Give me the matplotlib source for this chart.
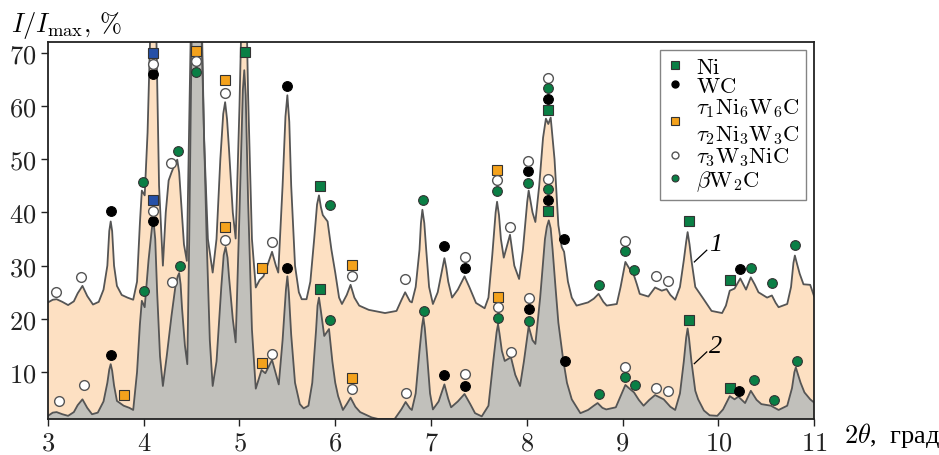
import matplotlib
matplotlib.use('Agg')
import matplotlib.pyplot as plt
from matplotlib.lines import Line2D

plt.rcParams['font.family'] = ['cmr10', 'Liberation Serif']
plt.rcParams['mathtext.fontset'] = 'cm'
plt.rcParams['axes.formatter.use_mathtext'] = True

# кривая 1 (верхняя)
x1 = [3.00, 3.05, 3.09, 3.15, 3.21, 3.27, 3.31, 3.36, 3.41, 3.47, 3.53, 3.58, 3.62, 3.64, 3.655,
      3.67, 3.69, 3.72, 3.77, 3.83, 3.89, 3.93, 3.96, 3.98, 4.01, 4.04, 4.07, 4.10, 4.13, 4.16,
      4.20, 4.23, 4.26, 4.29, 4.33, 4.35, 4.37, 4.39, 4.42, 4.45, 4.49, 4.55, 4.61, 4.63, 4.67,
      4.72, 4.76, 4.80, 4.83, 4.85, 4.87, 4.89, 4.93, 4.96, 5.00, 5.05, 5.09, 5.13, 5.17, 5.21,
      5.25, 5.29, 5.34, 5.38, 5.405, 5.45, 5.48, 5.50, 5.52, 5.54, 5.58, 5.62, 5.65, 5.70, 5.74,
      5.78, 5.81, 5.83, 5.85, 5.87, 5.92, 5.96, 6.00, 6.04, 6.07, 6.12, 6.16, 6.20, 6.25, 6.35,
      6.52, 6.64, 6.69, 6.73, 6.78, 6.80, 6.84, 6.88, 6.895, 6.91, 6.93, 6.95, 6.98, 7.02, 7.07,
      7.125, 7.14, 7.16, 7.18, 7.22, 7.28, 7.35, 7.40, 7.47, 7.56, 7.60, 7.64, 7.675, 7.69, 7.71,
      7.73, 7.76, 7.825, 7.87, 7.92, 7.96, 8.005, 8.02, 8.04, 8.06, 8.09, 8.13, 8.17, 8.20, 8.225,
      8.25, 8.29, 8.33, 8.365, 8.39, 8.43, 8.47, 8.52, 8.64, 8.70, 8.75, 8.80, 8.835, 8.94, 8.98,
      9.03, 9.07, 9.11, 9.15, 9.18, 9.27, 9.34, 9.41, 9.46, 9.50, 9.55, 9.60, 9.64, 9.665, 9.68,
      9.70, 9.72, 9.76, 9.84, 9.93, 10.04, 10.08, 10.12, 10.17, 10.23, 10.29, 10.34, 10.38, 10.42,
      10.51, 10.56, 10.60, 10.63, 10.72, 10.76, 10.785, 10.80, 10.82, 10.85, 10.89, 10.96, 11.00]
y1 = [23.1, 23.6, 23.7, 23.2, 22.6, 23.3, 24.8, 26.2, 24.3, 22.7, 23.2, 25.5, 30.0, 36.5, 38.3,
      36.5, 30.0, 26.2, 24.5, 24.0, 23.6, 27.0, 38.0, 44.1, 43.2, 55.0, 75.0, 100.0, 75.0, 45.0,
      30.0, 40.0, 46.0, 47.5, 49.3, 49.9, 47.5, 42.0, 34.0, 30.9, 72.6, 110.0, 72.6, 53.8, 35.0,
      28.7, 35.0, 50.0, 58.5, 60.7, 57.5, 52.0, 40.0, 35.1, 60.0, 100.0, 62.0, 35.0, 25.9, 27.3,
      28.0, 30.0, 32.6, 30.0, 28.7, 45.0, 58.0, 62.0, 57.0, 45.0, 30.0, 25.0, 23.7, 23.7, 27.0,
      35.0, 41.5, 43.2, 41.0, 39.5, 38.3, 33.0, 28.7, 24.0, 22.8, 24.5, 26.4, 24.0, 22.5, 21.7,
      21.1, 21.5, 23.5, 25.0, 23.3, 23.1, 26.0, 33.0, 38.0, 40.5, 38.0, 33.0, 26.0, 22.8, 25.0,
      30.0, 31.4, 29.5, 27.0, 24.0, 25.5, 28.0, 26.0, 23.0, 22.0, 24.0, 32.0, 40.0, 42.0, 39.5,
      35.0, 31.5, 35.8, 30.0, 27.5, 33.0, 42.0, 44.1, 42.0, 40.0, 38.2, 45.0, 54.0, 57.6, 56.6,
      57.8, 50.0, 37.6, 33.5, 32.6, 27.0, 24.0, 22.5, 23.1, 23.8, 24.7, 23.2, 22.5, 22.8, 26.0,
      30.7, 29.5, 28.7, 26.5, 24.7, 24.2, 25.9, 25.3, 25.6, 24.5, 23.6, 26.0, 31.0, 34.5, 36.3,
      34.0, 31.0, 26.0, 23.9, 21.5, 21.1, 22.5, 25.3, 25.7, 27.6, 25.5, 27.8, 26.5, 25.0,
      24.0, 24.4, 23.0, 22.2, 22.8, 26.0, 30.5, 31.9, 30.5, 28.5, 26.5, 26.4, 24.3]

# кривая 2 (нижняя)
x2 = [3.00, 3.05, 3.09, 3.15, 3.21, 3.27, 3.31, 3.36, 3.41, 3.46, 3.52, 3.58, 3.62, 3.64, 3.655,
      3.67, 3.69, 3.72, 3.79, 3.85, 3.89, 3.93, 3.96, 3.98, 4.01, 4.05, 4.085, 4.10, 4.12, 4.14,
      4.17, 4.20, 4.24, 4.29, 4.33, 4.355, 4.37, 4.385, 4.40, 4.43, 4.455, 4.475, 4.50, 4.55, 4.605,
      4.657, 4.69, 4.72, 4.76, 4.81, 4.835, 4.855, 4.875, 4.89, 4.93, 4.96, 5.00, 5.035, 5.05, 5.065,
      5.09, 5.13, 5.17, 5.23, 5.27, 5.34, 5.41, 5.45, 5.485, 5.50, 5.515, 5.54, 5.58, 5.63, 5.67,
      5.72, 5.76, 5.80, 5.815, 5.83, 5.85, 5.885, 5.935, 5.97, 6.00, 6.03, 6.08, 6.12, 6.16, 6.21,
      6.26, 6.38, 6.45, 6.62, 6.69, 6.735, 6.78, 6.80, 6.84, 6.88, 6.905, 6.92, 6.935, 6.96, 6.99,
      7.02, 7.08, 7.14, 7.18, 7.21, 7.28, 7.35, 7.41, 7.46, 7.53, 7.60, 7.65, 7.685, 7.70, 7.715,
      7.74, 7.77, 7.835, 7.88, 7.93, 7.97, 8.02, 8.06, 8.09, 8.14, 8.19, 8.21, 8.23, 8.25, 8.27,
      8.30, 8.33, 8.38, 8.42, 8.47, 8.56, 8.64, 8.70, 8.74, 8.79, 8.83, 8.93, 8.98, 9.03, 9.08,
      9.12, 9.17, 9.22, 9.28, 9.34, 9.43, 9.50, 9.55, 9.60, 9.64, 9.665, 9.68, 9.695, 9.72, 9.76,
      9.79, 9.85, 9.91, 9.99, 10.05, 10.12, 10.17, 10.21, 10.28, 10.34, 10.40, 10.45, 10.55, 10.63,
      10.72, 10.77, 10.795, 10.81, 10.825, 10.86, 10.90, 10.96, 11.00]
y2 = [1.8, 2.4, 2.5, 2.1, 1.8, 2.5, 3.8, 4.9, 3.3, 2.1, 2.4, 4.5, 8.0, 10.5, 11.5,
      10.3, 7.5, 4.6, 3.7, 3.3, 2.9, 10.0, 19.0, 23.4, 22.2, 31.0, 37.0, 38.8, 35.0, 25.0,
      13.0, 7.4, 13.0, 20.6, 26.0, 28.0, 28.6, 26.5, 22.0, 15.0, 11.5, 35.0, 72.6, 110.0, 72.6,
      35.0, 16.0, 7.4, 12.0, 26.0, 32.0, 33.5, 31.5, 28.0, 20.0, 15.6, 40.0, 63.0, 66.7, 62.0,
      42.0, 18.0, 6.9, 10.4, 9.8, 12.3, 7.7, 16.0, 25.5, 28.0, 25.0, 17.0, 8.0, 4.0, 3.2,
      3.7, 8.0, 18.0, 22.5, 24.0, 21.5, 16.8, 18.1, 12.0, 8.0, 5.5, 2.9, 4.0, 5.2, 3.5,
      2.5, 1.5, 1.2, 1.2, 3.0, 4.4, 3.2, 2.9, 6.0, 14.0, 18.5, 20.3, 18.3, 13.0, 6.0,
      3.0, 4.5, 7.7, 5.0, 3.4, 4.5, 5.9, 4.0, 2.3, 1.7, 3.7, 12.0, 17.5, 19.0, 17.3,
      14.0, 12.1, 12.8, 9.5, 7.4, 12.0, 18.6, 16.0, 15.3, 24.0, 35.0, 37.3, 38.5, 37.0, 33.0,
      26.0, 19.3, 12.4, 8.0, 4.9, 2.3, 2.9, 3.7, 4.2, 3.3, 3.0, 3.4, 5.5, 7.6, 6.8,
      6.2, 4.8, 3.7, 4.8, 5.7, 4.9, 3.5, 2.9, 6.0, 12.0, 16.5, 18.2, 16.3, 12.0, 6.5,
      4.9, 2.8, 1.9, 1.8, 3.0, 5.5, 4.9, 5.4, 4.2, 6.5, 4.8, 4.0, 3.7, 2.9,
      3.7, 7.0, 10.0, 10.9, 10.0, 8.0, 6.2, 4.9, 4.3]

# метки фаз
ni_x = [5.057, 5.84, 5.84, 8.225, 8.225, 9.69, 9.69, 10.12, 10.12]
ni_y = [70.1, 44.9, 25.7, 59.3, 40.2, 38.3, 19.8, 27.4, 7.1]
wc_x = [3.655, 3.66, 4.10, 4.10, 5.50, 5.50, 7.14, 7.35, 7.14, 7.35, 8.01, 8.02, 8.225, 8.225,
        8.39, 8.40, 10.23, 10.22]
wc_y = [40.2, 13.3, 65.9, 38.3, 63.7, 29.5, 33.6, 29.5, 9.4, 7.4, 47.7, 21.8, 61.3, 42.4,
        35.0, 12.1, 29.4, 6.5]
tau12_x = [3.79, 4.55, 4.85, 4.85, 5.24, 5.23, 6.17, 6.17, 7.69, 7.70]
tau12_y = [5.7, 70.4, 64.9, 37.2, 29.6, 11.7, 30.1, 8.9, 48.0, 24.2]
tau3_x = [3.08, 3.12, 3.35, 3.38, 4.10, 4.10, 4.285, 4.30, 4.55, 4.85, 4.85, 5.335, 5.335,
          6.17, 6.17, 6.73, 6.74, 7.35, 7.35, 7.69, 7.70, 7.83, 7.835, 8.01, 8.02, 8.225, 8.225,
          9.03, 9.03, 9.35, 9.35, 9.47, 9.47]
tau3_y = [25.1, 4.5, 27.8, 7.6, 67.9, 40.3, 49.3, 27.0, 68.4, 62.5, 34.8, 34.4, 13.5,
          28.0, 6.8, 27.5, 6.0, 31.7, 9.6, 46.0, 22.2, 37.2, 13.7, 49.7, 23.9, 65.3, 46.3,
          34.6, 10.9, 28.1, 7.1, 27.2, 6.5]
bw2c_x = [3.99, 4.00, 4.36, 4.38, 4.55, 5.94, 5.945, 6.92, 6.93, 7.69, 7.70, 8.01, 8.02,
          8.225, 8.225, 8.75, 8.75, 9.03, 9.03, 9.12, 9.13, 10.34, 10.375, 10.565, 10.58,
          10.80, 10.82]
bw2c_y = [45.8, 25.3, 51.6, 30.0, 66.4, 41.3, 19.8, 42.4, 21.4, 44.1, 20.2, 45.5, 19.7,
          63.4, 44.4, 26.4, 5.9, 32.7, 9.0, 29.2, 7.6, 29.5, 8.6, 26.7, 4.7,
          33.9, 12.1]
blue_x = [4.10, 4.10]
blue_y = [69.9, 42.3]

green = '#0a7f45'
orange = '#f4a21c'
edge = '#333333'

fig = plt.figure(figsize=(9.39, 4.56), dpi=100)
ax = fig.add_axes([0.0511, 0.0789, 0.8158, 0.8268])

ax.fill_between(x1, y1, 0, color='#fde0c2', lw=0)
ax.plot(x1, y1, color='#555555', lw=1.3)
ax.fill_between(x2, y2, 0, color='#c1c0bb', lw=0)
ax.plot(x2, y2, color='#555555', lw=1.3)

ax.plot(ni_x, ni_y, 's', ms=7.5, mfc=green, mec=edge, mew=0.8, ls='none')
ax.plot(wc_x, wc_y, 'o', ms=7, mfc='black', mec='black', mew=0.8, ls='none')
ax.plot(tau12_x, tau12_y, 's', ms=7.5, mfc=orange, mec=edge, mew=0.8, ls='none')
ax.plot(tau3_x, tau3_y, 'o', ms=7, mfc='white', mec='#555555', mew=1.0, ls='none')
ax.plot(bw2c_x, bw2c_y, 'o', ms=7, mfc=green, mec=edge, mew=0.8, ls='none')
ax.plot(blue_x, blue_y, 's', ms=7.5, mfc='#2550a8', mec=edge, mew=0.8, ls='none')

# подписи кривых
ax.plot([9.75, 9.88], [30.7, 32.9], color='black', lw=0.9)
ax.plot([9.75, 9.88], [11.6, 13.8], color='black', lw=0.9)
ax.text(9.9, 34.1, '1', fontsize=19, va='center', ha='left',
        family='Liberation Serif', style='italic')
ax.text(9.9, 14.9, '2', fontsize=19, va='center', ha='left',
        family='Liberation Serif', style='italic')

ax.set_xlim(3, 11)
ax.set_ylim(1.2, 72)
ax.set_xticks(range(3, 12))
ax.set_yticks(range(10, 71, 10))
ax.tick_params(labelsize=19, length=5, width=1, direction='out', colors='#222222')
for s in ax.spines.values():
    s.set_linewidth(1.3)
    s.set_color('#222222')

fig.text(0.012, 0.93, r'$I/I_{\mathrm{max}}$, $\%$', fontsize=19)
fig.text(0.899, 0.028, r'$2\theta$,  град', fontsize=19, family='Liberation Serif')

handles = [
    Line2D([], [], marker='s', ls='none', ms=5.5, mfc=green, mec=edge, mew=0.8),
    Line2D([], [], marker='o', ls='none', ms=5, mfc='black', mec='black'),
    Line2D([], [], marker='s', ls='none', ms=5.5, mfc=orange, mec=edge, mew=0.8),
    Line2D([], [], marker='o', ls='none', ms=5, mfc='white', mec='#555555', mew=1.0),
    Line2D([], [], marker='o', ls='none', ms=5, mfc=green, mec=edge, mew=0.8),
]
labels = [r'$\mathrm{Ni}$', r'$\mathrm{WC}$',
          '$\\tau_1\\mathrm{Ni}_6\\mathrm{W}_6\\mathrm{C}$\n$\\tau_2\\mathrm{Ni}_3\\mathrm{W}_3\\mathrm{C}$',
          r'$\tau_3\mathrm{W}_3\mathrm{NiC}$', r'$\beta\mathrm{W}_2\mathrm{C}$']
leg = ax.legend(handles, labels, loc='upper right', fontsize=16.3, frameon=True, fancybox=False,
                edgecolor='#666666', borderaxespad=0.35, handlelength=0.8, handletextpad=0.5,
                labelspacing=0.0, borderpad=0.3)
leg.get_frame().set_linewidth(1.0)

fig.savefig('out.png', dpi=100)
